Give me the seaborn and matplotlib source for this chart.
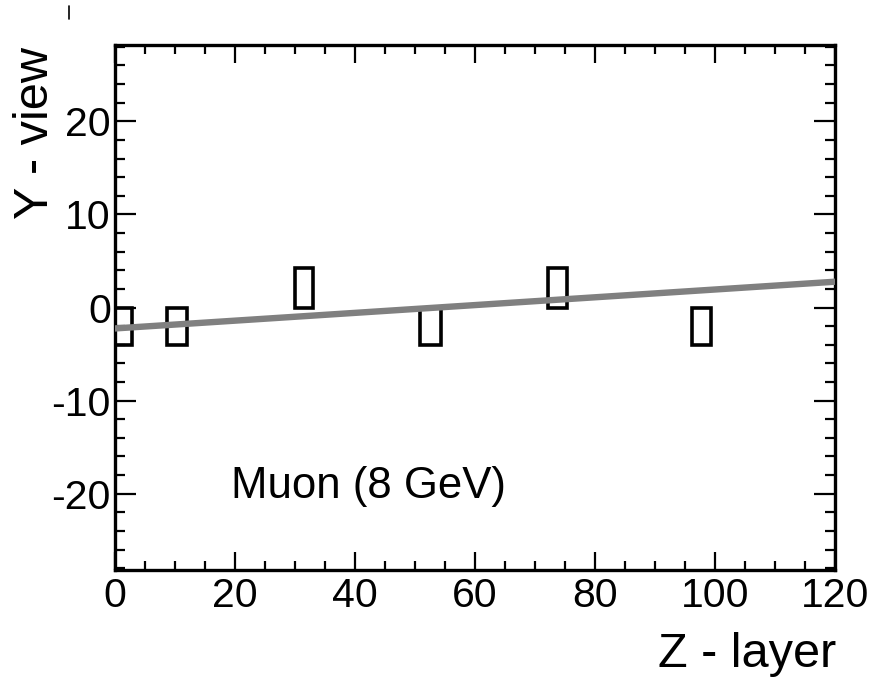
import matplotlib
matplotlib.use("Agg")
import matplotlib.pyplot as plt
from matplotlib.ticker import MultipleLocator
from matplotlib.lines import Line2D
import seaborn as sns
import pandas as pd

# Hit boxes (Z - layer vs Y - view)
box_left = [-0.4, 8.7, 30.0, 50.9, 72.1, 96.2]
box_width = [3.2, 3.3, 3.0, 3.4, 3.2, 3.2]
box_bottom = [-4.0, -4.0, 0.0, -4.0, 0.0, -4.0]
box_height = [4.0, 4.0, 4.2, 4.0, 4.2, 4.0]

# Fitted track line
fit_z = [0, 120]
fit_y = [-2.25, 2.77]

x_ticks = [0, 20, 40, 60, 80, 100, 120]
y_ticks = [-20, -10, 0, 10, 20]

sns.set_theme(style="ticks")
plt.rcParams['font.family'] = ['Liberation Sans', 'DejaVu Sans']
plt.rcParams['axes.unicode_minus'] = False

fig = plt.figure(figsize=(8.89, 6.77), dpi=100)
ax = fig.add_axes([115/889, 1-570/677, 720/889, 525/677])

ax.bar(box_left, box_height, width=box_width, bottom=box_bottom, align='edge',
       fill=False, edgecolor='black', linewidth=2.6, zorder=2)

df = pd.DataFrame({"z": fit_z, "y": fit_y})
sns.lineplot(data=df, x="z", y="y", ax=ax, color="#808080", linewidth=4.6, zorder=3)

ax.set_xlim(0, 120)
ax.set_ylim(-28.2, 28.2)
ax.set_xticks(x_ticks)
ax.set_yticks(y_ticks)
ax.xaxis.set_minor_locator(MultipleLocator(5))
ax.yaxis.set_minor_locator(MultipleLocator(2))
ax.tick_params(which='both', direction='in', top=True, right=True, width=1.6,
               color='black', labelsize=29.5, labelcolor='black')
ax.tick_params(axis='x', which='major', length=13, pad=5)
ax.tick_params(axis='x', which='minor', length=6.5)
ax.tick_params(axis='y', which='major', length=15, pad=3)
ax.tick_params(axis='y', which='minor', length=7.5)
for s in ax.spines.values():
    s.set_linewidth(2.4)
    s.set_color('black')
    s.set_visible(True)
ax.set_xlabel("")
ax.set_ylabel("")

ax.text(19.4, -20.5, "Muon (8 GeV)", fontsize=31.5, va='baseline', ha='left', color='black')

fig.text(836/889, 1-667/677, "Z - layer", fontsize=35, ha='right', va='baseline', color='black')
fig.text(36/889, 1-47/677, "Y - view", fontsize=35, ha='center', va='top', rotation=90, color='black')
fig.add_artist(Line2D([69/889, 69/889], [1-6/677, 1-19/677], color='black', linewidth=1.2))

fig.savefig("out.png", dpi=100)
